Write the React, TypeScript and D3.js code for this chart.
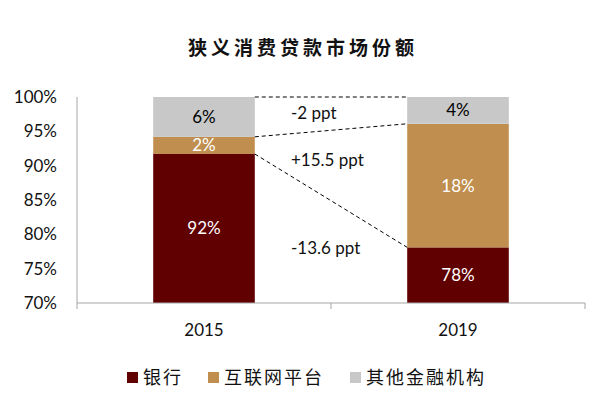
import React from "react";
import * as d3 from "d3";

const years = ["2015", "2019"];
const seriesNames = ["银行", "互联网平台", "其他金融机构"];
const bankShare = [91.7, 78.1];
const internetShare = [2.5, 18.0];
const otherShare = [5.8, 3.9];
const valueLabels = [
  ["92%", "2%", "6%"],
  ["78%", "18%", "4%"],
];
const changeLabels = ["-2 ppt", "+15.5 ppt", "-13.6 ppt"];
const yTicks = [70, 75, 80, 85, 90, 95, 100];
const colors = ["#600000", "#c08f4f", "#c8c8c8"];
const labelColors = ["#ffffff", "#ffffff", "#000000"];

const W = 594;
const H = 395;
const M = { left: 77, right: 9, top: 97, bottom: 92 };

export default function App() {
  const x = d3
    .scaleBand<string>()
    .domain(years)
    .range([M.left, W - M.right])
    .paddingInner(0.6)
    .paddingOuter(0.3);
  const y = d3.scaleLinear().domain([70, 100]).range([H - M.bottom, M.top]).clamp(true);
  const band = d3.scaleBand<string>().domain(years).range([M.left, W - M.right]);

  const data = years.map((yr, i) => ({
    year: yr,
    b: bankShare[i],
    n: internetShare[i],
    o: otherShare[i],
  }));
  const stack = d3.stack<any>().keys(["b", "n", "o"])(data);

  const font = "Lato, 'Liberation Sans', sans-serif";
  const cjk = "'Noto Sans CJK SC', sans-serif";
  const x0 = x("2015")! + x.bandwidth();
  const x1 = x("2019")!;
  const tops0 = stack.map((s) => s[0][1]);
  const tops1 = stack.map((s) => s[1][1]);
  const annY = [113, 160, 248];

  return (
    <svg width={W} height={H} style={{ position: "absolute", left: 0, top: 0 }}>
      <rect width={W} height={H} fill="#fff" />
      <text
        x={303}
        y={55}
        textAnchor="middle"
        fontFamily={cjk}
        fontSize={19}
        fontWeight={700}
        letterSpacing={4}
        fill="#111"
      >
        狭义消费贷款市场份额
      </text>

      {yTicks.map((t) => (
        <text
          key={t}
          x={57}
          y={y(t)}
          dy="0.35em"
          textAnchor="end"
          fontFamily={font}
          fontSize={17}
          fill="#111"
        >
          {t}%
        </text>
      ))}

      {stack.map((s, si) =>
        s.map((d, i) => (
          <rect
            key={si + "-" + i}
            x={x(years[i])}
            width={x.bandwidth()}
            y={y(d[1])}
            height={y(d[0]) - y(d[1])}
            fill={colors[si]}
          />
        ))
      )}

      {stack.map((s, si) =>
        s.map((d, i) => (
          <text
            key={"l" + si + "-" + i}
            x={x(years[i])! + x.bandwidth() / 2}
            y={(y(d[0]) + y(d[1])) / 2}
            dy="0.35em"
            textAnchor="middle"
            fontFamily={font}
            fontSize={17}
            fill={labelColors[si]}
          >
            {valueLabels[i][si]}
          </text>
        ))
      )}

      <line x1={x0} x2={x1} y1={y(100)} y2={y(100)} stroke="#000" strokeDasharray="4,3" />
      <line x1={x0} x2={x1} y1={y(tops0[1])} y2={y(tops1[1])} stroke="#000" strokeDasharray="4,3" />
      <line x1={x0} x2={x1} y1={y(tops0[0])} y2={y(tops1[0])} stroke="#000" strokeDasharray="4,3" />

      {changeLabels.map((c, i) => (
        <text
          key={c}
          x={291}
          y={annY[i]}
          dy="0.35em"
          fontFamily={font}
          fontSize={17}
          fill="#111"
        >
          {c}
        </text>
      ))}

      <line x1={M.left} x2={M.left} y1={M.top} y2={H - M.bottom} stroke="#a6a6a6" />
      <line x1={M.left} x2={W - M.right} y1={H - M.bottom} y2={H - M.bottom} stroke="#a6a6a6" />
      {[M.left, band("2019")!, W - M.right].map((tx, i) => (
        <line key={i} x1={tx} x2={tx} y1={H - M.bottom} y2={H - M.bottom + 6} stroke="#a6a6a6" />
      ))}
      {years.map((yr) => (
        <text
          key={yr}
          x={x(yr)! + x.bandwidth() / 2}
          y={330}
          dy="0.35em"
          textAnchor="middle"
          fontFamily={font}
          fontSize={17}
          fill="#111"
        >
          {yr}
        </text>
      ))}

      {seriesNames.map((n, i) => {
        const lx = [127, 208, 350][i];
        return (
          <g key={n}>
            <rect x={lx} y={372} width={11} height={11} fill={colors[i]} />
            <text
              x={lx + 16}
              y={378}
              dy="0.35em"
              fontFamily={cjk}
              fontSize={18}
              letterSpacing={2}
              fill="#111"
            >
              {n}
            </text>
          </g>
        );
      })}
    </svg>
  );
}
